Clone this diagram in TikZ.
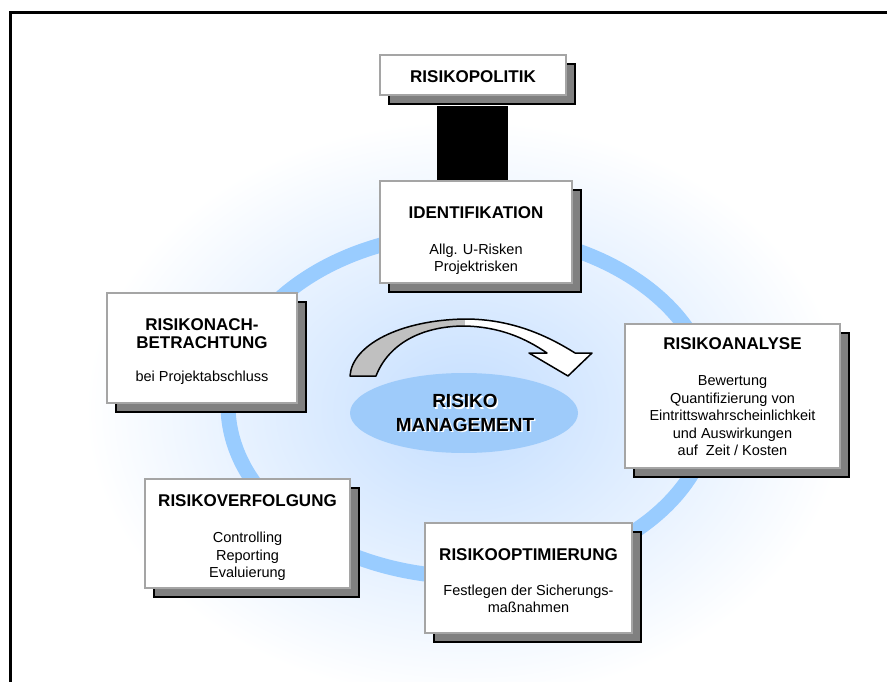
\documentclass[tikz,border=0pt]{standalone}
\usepackage{fontspec}
\setmainfont{Liberation Sans}
\usetikzlibrary{shadows}
\definecolor{ringblue}{RGB}{153,204,255}
\definecolor{coreblue}{RGB}{158,203,250}
\definecolor{glowblue}{RGB}{196,222,255}
\definecolor{boxgray}{RGB}{165,165,165}
\definecolor{shadowgray}{RGB}{128,128,128}
\definecolor{arrowgray}{RGB}{192,192,192}
\begin{document}
\begin{tikzpicture}[x=1pt,y=-1pt,
    riskbox/.style={draw=boxgray,fill=white,line width=2pt,inner sep=0pt,
      drop shadow={shadow xshift=9pt,shadow yshift=-9pt,fill=shadowgray,draw=black,line width=2pt,opacity=1}},
    titletext/.style={font=\fontsize{17}{18.5}\selectfont\bfseries,align=center,inner sep=0pt,anchor=north},
    bodytext/.style={font=\fontsize{14.5}{17.5}\selectfont,align=center,inner sep=0pt,anchor=north}]
    \useasboundingbox (0,0) rectangle (887,682);
    % glow, ring and centre
    \shade[inner color=glowblue,outer color=white] (465,410) ellipse [x radius=380,y radius=290];
    \draw[ringblue,line width=15pt] (470,405) ellipse [x radius=242,y radius=172];
    \fill[coreblue] (464,413) ellipse [x radius=114,y radius=40];
    \node[titletext,font=\fontsize{19}{23.5}\selectfont\bfseries,text=white] (mgmtshade) at (466.5,396) {RISIKO\\MANAGEMENT};
    \node[titletext,font=\fontsize{19}{23.5}\selectfont\bfseries] (mgmt) at (465,394.5) {RISIKO\\MANAGEMENT};
    % curved arrow
    \draw[line width=1.5pt,fill=white,line join=round,
      path picture={\fill[arrowgray] (300,300) rectangle (465,400);}]
      (350,376) .. controls (352,345) and (400,320) .. (465,319)
      .. controls (512,319) and (548,336) .. (575,353) -- (592,353) -- (568,376) -- (529,353) -- (547,353)
      .. controls (525,338) and (500,327) .. (465,326)
      .. controls (420,326) and (388,345) .. (376,376) -- cycle;
    % boxes
    \node[riskbox,minimum width=186pt,minimum height=40pt] (politik) at (473,75) {};
    \node[titletext] (politiktitle) at (473,70.7) {RISIKOPOLITIK};
    \node[fill=black,inner sep=0pt,minimum width=71pt,minimum height=77pt] (link) at (472.5,144.5) {};
    \node[riskbox,minimum width=192pt,minimum height=102pt] (ident) at (476,232) {};
    \node[titletext] (identtitle) at (476,206) {IDENTIFIKATION};
    \node[bodytext] (identbody) at (476,243.5) {Allg. U-Risken\\Projektrisken};
    \node[riskbox,minimum width=190pt,minimum height=110pt] (nach) at (202,348) {};
    \node[titletext] (nachtitle) at (202,318) {RISIKONACH-\\BETRACHTUNG};
    \node[bodytext] (nachbody) at (202,371.2) {bei Projektabschluss};
    \node[riskbox,minimum width=215pt,minimum height=144pt] (analyse) at (732.5,396) {};
    \node[titletext] (analysetitle) at (732.5,337) {RISIKOANALYSE};
    \node[bodytext] (analysebody) at (732.5,375.6) {Bewertung\\Quantifizierung von\\Eintrittswahrscheinlichkeit\\und Auswirkungen\\auf\ \ Zeit / Kosten};
    \node[riskbox,minimum width=205pt,minimum height=109pt] (verfolg) at (247.5,533.5) {};
    \node[titletext] (verfolgtitle) at (247.5,494) {RISIKOVERFOLGUNG};
    \node[bodytext] (verfolgbody) at (247.5,532.1) {Controlling\\Reporting\\Evaluierung};
    \node[riskbox,minimum width=207pt,minimum height=110pt] (optim) at (528.5,578) {};
    \node[titletext] (optimtitle) at (528.5,548) {RISIKOOPTIMIERUNG};
    \node[bodytext] (optimbody) at (528.5,584.4) {Festlegen der Sicherungs-\\maßnahmen};
    % frame
    \draw[line width=3pt] (10.5,682) -- (10.5,12.5) -- (887,12.5);
\end{tikzpicture}
\end{document}
